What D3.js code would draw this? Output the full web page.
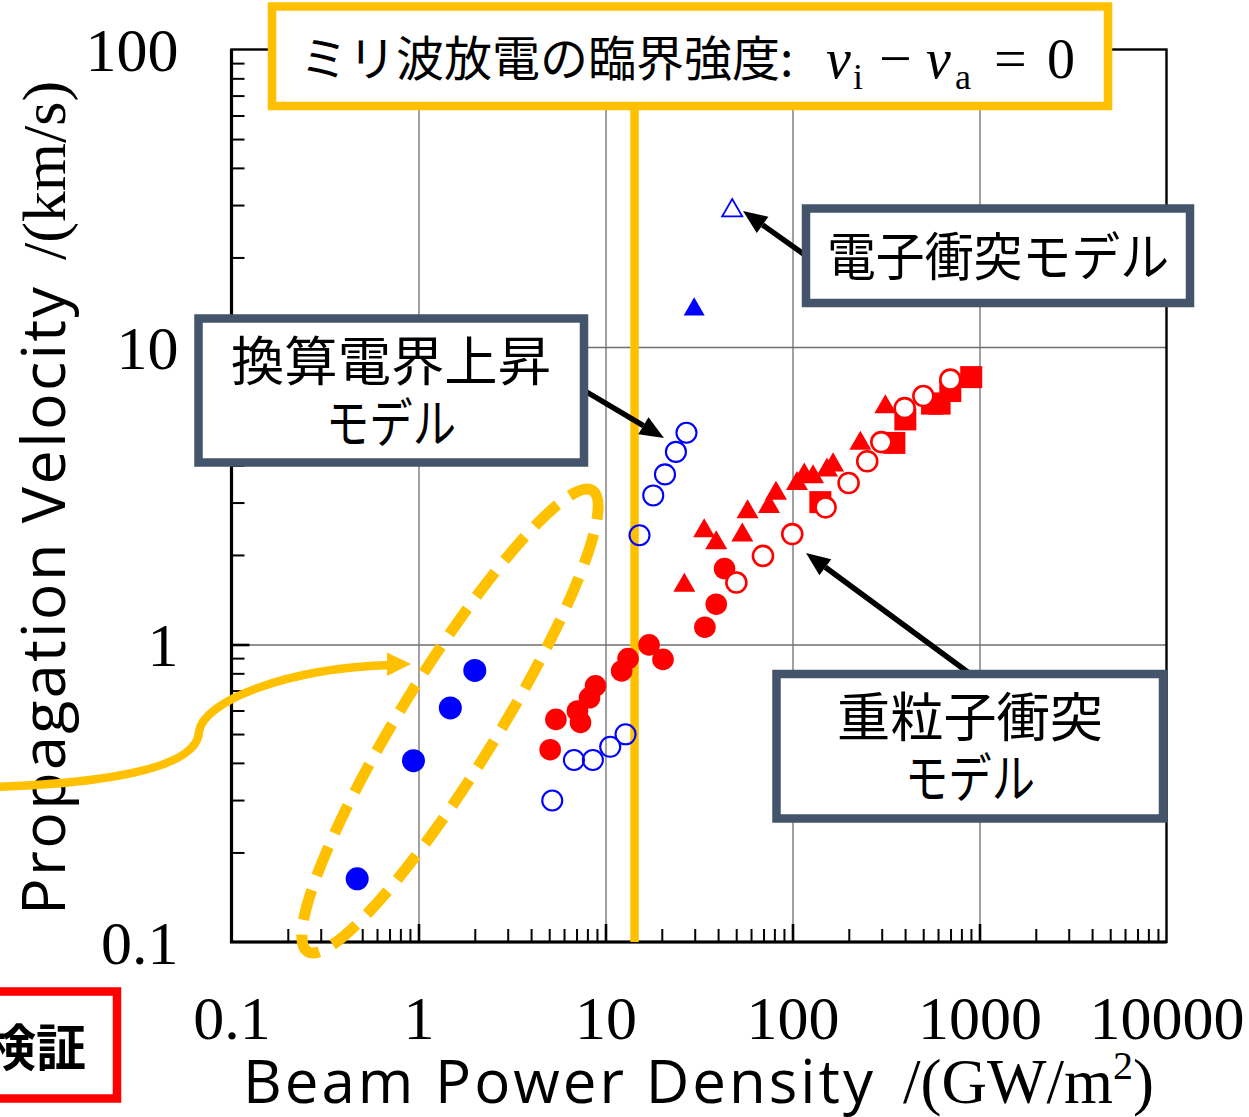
<!DOCTYPE html>
<html>
<head>
<meta charset="utf-8">
<script src="https://cdn.jsdelivr.net/npm/d3@7"></script>
<style>
  html, body { margin: 0; padding: 0; background: #ffffff; }
  svg { display: block; }
</style>
</head>
<body>
<svg id="chart" width="1249" height="1117"></svg>
<script>
// ---------------- data (x: GW/m^2, y: km/s) ----------------
const xTickValues = [0.1, 1, 10, 100, 1000, 10000];
const xTickLabels = ["0.1", "1", "10", "100", "1000", "10000"];
const yTickValues = [0.1, 1, 10, 100];
const yTickLabels = ["0.1", "1", "10", "100"];
const gridDecadesX = [1, 10, 100, 1000];
const gridDecadesY = [1, 10];

// critical beam power density of millimetre-wave discharge
const criticalPowerDensity = 14.3;

const blueSolidCircles = [[0.47, 0.163], [0.94, 0.407], [1.48, 0.612], [2.0, 0.818]];
const blueHollowCircles = [
  [5.19, 0.299], [6.78, 0.409], [8.56, 0.409], [10.6, 0.453], [12.8, 0.499],
  [15.2, 2.33], [18.0, 3.17], [20.8, 3.73], [23.8, 4.44], [27.1, 5.15]
];
const blueSolidTriangles = [[29.8, 13.7]];
const blueHollowTriangles = [[47.6, 29.4]];
const redSolidCircles = [
  [5.06, 0.443], [5.43, 0.560], [7.35, 0.547], [7.08, 0.598], [8.21, 0.662],
  [8.84, 0.726], [12.2, 0.815], [13.2, 0.897], [17.1, 0.997], [20.3, 0.891],
  [34.0, 1.143], [39.1, 1.366], [43.3, 1.80]
];
const redSolidTriangles = [
  [26.4, 1.62], [33.7, 2.47], [39.1, 2.25], [53.9, 2.39], [57.5, 2.86],
  [74.9, 2.98], [81.6, 3.30], [105.7, 3.56], [115.6, 3.80], [128.8, 3.75],
  [153, 3.95], [164.8, 4.11], [230.6, 4.86], [313.7, 6.45]
];
const redSolidSquares = [
  [140.9, 3.01], [350.6, 4.76], [401.3, 5.71], [557.6, 6.45], [612, 6.45],
  [698, 7.11], [903, 7.92]
];
const redHollowCircles = [
  [50.1, 1.615], [69.5, 1.985], [99.7, 2.35], [150.3, 2.89], [199.5, 3.49],
  [251, 4.13], [298.5, 4.79], [398, 6.23], [501, 6.84], [698, 7.77]
];

// ---------------- layout ----------------
const W = 1249, H = 1117;
const plot = { left: 231.5, right: 1166.5, top: 49.5, bottom: 942 };
const BLUE = "#0000ff", RED = "#ff0000", GOLD = "#ffc000", SLATE = "#44546a";
const SERIF = "'Liberation Serif', 'Times New Roman', serif";
const SANS = "'Open Sans', 'Noto Sans', sans-serif";
const JP = "'Noto Sans CJK JP', sans-serif";

const svg = d3.select("#chart");
svg.append("rect").attr("width", W).attr("height", H).attr("fill", "#fff");

const x = d3.scaleLog().domain([0.1, 10000]).range([plot.left, plot.right]);
const y = d3.scaleLog().domain([0.1, 100]).range([plot.bottom, plot.top]);

const minorOf = (lo, hi) => {
  const out = [];
  for (let e = lo; e < hi; e++) for (let k = 2; k <= 9; k++) out.push(k * Math.pow(10, e));
  return out;
};
const xMinor = minorOf(-1, 4);
const yMinor = minorOf(-1, 2);

// ---------------- grid ----------------
const gridX = svg.append("g")
  .attr("transform", `translate(0,${plot.bottom})`)
  .call(d3.axisBottom(x).tickValues(gridDecadesX).tickSize(-(plot.bottom - plot.top)).tickFormat(""));
gridX.select(".domain").remove();
gridX.selectAll("line").attr("stroke", "#6e6e6e").attr("stroke-width", 1.3);

const gridY = svg.append("g")
  .attr("transform", `translate(${plot.left},0)`)
  .call(d3.axisLeft(y).tickValues(gridDecadesY).tickSize(-(plot.right - plot.left)).tickFormat(""));
gridY.select(".domain").remove();
gridY.selectAll("line").attr("stroke", "#6e6e6e").attr("stroke-width", 1.3);

// ---------------- ticks (inward) ----------------
function tickLayer(axis, transform, width) {
  const g = svg.append("g").attr("transform", transform).call(axis);
  g.select(".domain").remove();
  g.selectAll("line").attr("stroke", "#000").attr("stroke-width", width);
  return g;
}
tickLayer(d3.axisBottom(x).tickValues(xMinor).tickSize(-13).tickFormat(""), `translate(0,${plot.bottom})`, 2);
tickLayer(d3.axisBottom(x).tickValues(gridDecadesX).tickSize(-18).tickFormat(""), `translate(0,${plot.bottom})`, 2.6);
tickLayer(d3.axisLeft(y).tickValues(yMinor).tickSize(-13).tickFormat(""), `translate(${plot.left},0)`, 2);
tickLayer(d3.axisLeft(y).tickValues(gridDecadesY).tickSize(-18).tickFormat(""), `translate(${plot.left},0)`, 2.6);

// ---------------- frame ----------------
svg.append("rect")
  .attr("x", plot.left).attr("y", plot.top)
  .attr("width", plot.right - plot.left).attr("height", plot.bottom - plot.top)
  .attr("fill", "none").attr("stroke", "#000").attr("stroke-width", 2.4);
svg.append("path")
  .attr("d", `M${plot.left},${plot.top}V${plot.bottom}H${plot.right}`)
  .attr("fill", "none").attr("stroke", "#000").attr("stroke-width", 3.2);

// ---------------- tick labels ----------------
const xLab = svg.append("g")
  .attr("transform", `translate(0,${plot.bottom})`)
  .call(d3.axisBottom(x).tickValues(xTickValues).tickSize(0).tickFormat((d, i) => xTickLabels[i]));
xLab.select(".domain").remove();
xLab.attr("font-family", SERIF).attr("font-size", 62);
xLab.selectAll("text").attr("y", 97).attr("dy", null).attr("fill", "#000");

const yLab = svg.append("g")
  .attr("transform", `translate(${plot.left},0)`)
  .call(d3.axisLeft(y).tickValues(yTickValues).tickSize(0).tickFormat((d, i) => yTickLabels[i]));
yLab.select(".domain").remove();
yLab.attr("font-family", SERIF).attr("font-size", 62);
yLab.selectAll("text").attr("x", -53).attr("dy", "0.34em").attr("fill", "#000");

// ---------------- axis titles ----------------
svg.append("text")
  .attr("x", 243).attr("y", 1103)
  .attr("font-family", SANS).attr("font-size", 60)
  .attr("textLength", 630).attr("lengthAdjust", "spacing")
  .text("Beam Power Density");
const xUnit = svg.append("text")
  .attr("x", 903).attr("y", 1103)
  .attr("font-family", SERIF).attr("font-size", 63);
xUnit.append("tspan").text("/(GW/m");
xUnit.append("tspan").attr("font-size", 40).attr("dy", -24).text("2");
xUnit.append("tspan").attr("dy", 24).text(")");

svg.append("text")
  .attr("transform", "translate(65,915) rotate(-90)")
  .attr("font-family", SANS).attr("font-size", 61)
  .attr("textLength", 628).attr("lengthAdjust", "spacing")
  .text("Propagation Velocity");
svg.append("text")
  .attr("transform", "translate(65,260) rotate(-90)")
  .attr("font-family", SERIF).attr("font-size", 62)
  .text("/(km/s)");

// ---------------- critical line ----------------
svg.append("line")
  .attr("x1", x(criticalPowerDensity)).attr("x2", x(criticalPowerDensity))
  .attr("y1", 100).attr("y2", plot.bottom)
  .attr("stroke", GOLD).attr("stroke-width", 8.5);

// ---------------- markers ----------------
const triUp = {
  draw(ctx, size) {
    const s = Math.sqrt(size * 4 / Math.sqrt(3));
    const h = s * Math.sqrt(3) / 2;
    ctx.moveTo(0, -h / 2);
    ctx.lineTo(s / 2, h / 2);
    ctx.lineTo(-s / 2, h / 2);
    ctx.closePath();
  }
};
const marks = svg.append("g");
function drawSymbols(data, type, size, fill, stroke, strokeWidth) {
  marks.append("g").selectAll("path").data(data).join("path")
    .attr("transform", d => `translate(${x(d[0])},${y(d[1])})`)
    .attr("d", d3.symbol().type(type).size(size))
    .attr("fill", fill).attr("stroke", stroke).attr("stroke-width", strokeWidth);
}
function drawCircles(data, r, fill, stroke, strokeWidth) {
  marks.append("g").selectAll("circle").data(data).join("circle")
    .attr("cx", d => x(d[0])).attr("cy", d => y(d[1])).attr("r", r)
    .attr("fill", fill).attr("stroke", stroke).attr("stroke-width", strokeWidth);
}
const triSize = Math.sqrt(3) / 4 * 22 * 22;
drawCircles(blueSolidCircles, 11.5, BLUE, "none", 0);
drawCircles(blueHollowCircles, 10, "none", BLUE, 2.1);
drawSymbols(blueSolidTriangles, triUp, Math.sqrt(3) / 4 * 21 * 21, BLUE, "none", 0);
drawSymbols(blueHollowTriangles, triUp, Math.sqrt(3) / 4 * 20 * 20, "none", BLUE, 1.8);
drawCircles(redSolidCircles, 10.8, RED, "none", 0);
drawSymbols(redSolidTriangles, triUp, triSize, RED, "none", 0);
drawSymbols(redSolidSquares, d3.symbolSquare, 22 * 22, RED, "none", 0);
drawCircles(redHollowCircles, 10, "#fff", RED, 2.6);

// ---------------- annotations ----------------
const notes = svg.append("g");

// dashed ellipse around the low-power group
notes.append("ellipse")
  .attr("transform", "translate(450,721) rotate(-58.3)")
  .attr("rx", 271).attr("ry", 48)
  .attr("fill", "none").attr("stroke", GOLD).attr("stroke-width", 11)
  .attr("stroke-dasharray", "31,15");

// arrow helper: straight shaft + filled head
function arrow(g, x1, y1, x2, y2, color, width, headLen, headW) {
  const a = Math.atan2(y2 - y1, x2 - x1);
  const bx = x2 - headLen * Math.cos(a), by = y2 - headLen * Math.sin(a);
  g.append("line").attr("x1", x1).attr("y1", y1).attr("x2", bx).attr("y2", by)
    .attr("stroke", color).attr("stroke-width", width);
  const px = -Math.sin(a) * headW / 2, py = Math.cos(a) * headW / 2;
  g.append("path")
    .attr("d", `M${x2},${y2}L${bx + px},${by + py}L${bx - px},${by - py}Z`)
    .attr("fill", color);
}

// curved gold pointer coming in from the left edge
notes.append("path")
  .attr("d", "M-5,787 C110,783 197,768 199,732 C202,702 285,668 392,665")
  .attr("fill", "none").attr("stroke", GOLD).attr("stroke-width", 8.5);
notes.append("path")
  .attr("d", "M411,664 L387,652.5 L387,676 Z")
  .attr("fill", GOLD);

// callout arrows
arrow(notes, 585, 391, 664, 438, "#000", 5.5, 24, 20);
arrow(notes, 805, 255, 743, 211, "#000", 5.5, 24, 20);
arrow(notes, 969, 673, 806, 553, "#000", 5.5, 24, 20);

// boxes
function box(g, x0, y0, x1, y1, color, width) {
  g.append("rect").attr("x", x0).attr("y", y0).attr("width", x1 - x0).attr("height", y1 - y0)
    .attr("fill", "#fff").attr("stroke", color).attr("stroke-width", width);
}
function label(g, cx, by, text, size, opts = {}) {
  const t = g.append("text").attr("x", cx).attr("y", by)
    .attr("text-anchor", opts.anchor || "middle")
    .attr("font-family", JP).attr("font-size", size).attr("fill", "#000")
    .text(text);
  if (opts.weight) t.attr("font-weight", opts.weight);
  if (opts.length) t.attr("textLength", opts.length).attr("lengthAdjust", "spacingAndGlyphs");
  return t;
}

// title box
box(notes, 272, 6.5, 1108, 106, GOLD, 8.5);
const title = notes.append("text").attr("y", 76).attr("fill", "#000");
title.append("tspan").attr("x", 300).attr("font-family", JP).attr("font-size", 48).text("ミリ波放電の臨界強度:");
const mathPart = (t, xx, yy, size, italic) =>
  title.append("tspan").attr("x", xx).attr("y", yy)
    .attr("font-family", SERIF).attr("font-size", size)
    .attr("font-style", italic ? "italic" : "normal").text(t);
mathPart("ν", 826, 78, 56, true);
mathPart("i", 853, 89, 36, false);
mathPart("−", 879, 78, 58, false);
mathPart("ν", 926, 78, 56, true);
mathPart("a", 955, 89, 36, false);
mathPart("=", 994, 78, 58, false);
mathPart("0", 1047, 78, 56, false);

// model boxes
box(notes, 806, 208.5, 1190, 303, SLATE, 8.5);
label(notes, 998, 276, "電子衝突モデル", 52, { length: 342 });

box(notes, 198.5, 318.5, 584, 462.5, SLATE, 8.5);
label(notes, 391, 381, "換算電界上昇", 53, { length: 320 });
label(notes, 391, 443, "モデル", 53, { length: 130 });

box(notes, 776.5, 674, 1163, 818.5, SLATE, 8.5);
label(notes, 970, 737, "重粒子衝突", 53, { length: 266 });
label(notes, 970, 798, "モデル", 53, { length: 130 });

// cut-off verification tag at lower left
box(notes, -20, 991.5, 117, 1098.5, RED, 8.5);
label(notes, 86, 1066, "検証", 50, { anchor: "end", weight: 700 });
</script>
</body>
</html>
